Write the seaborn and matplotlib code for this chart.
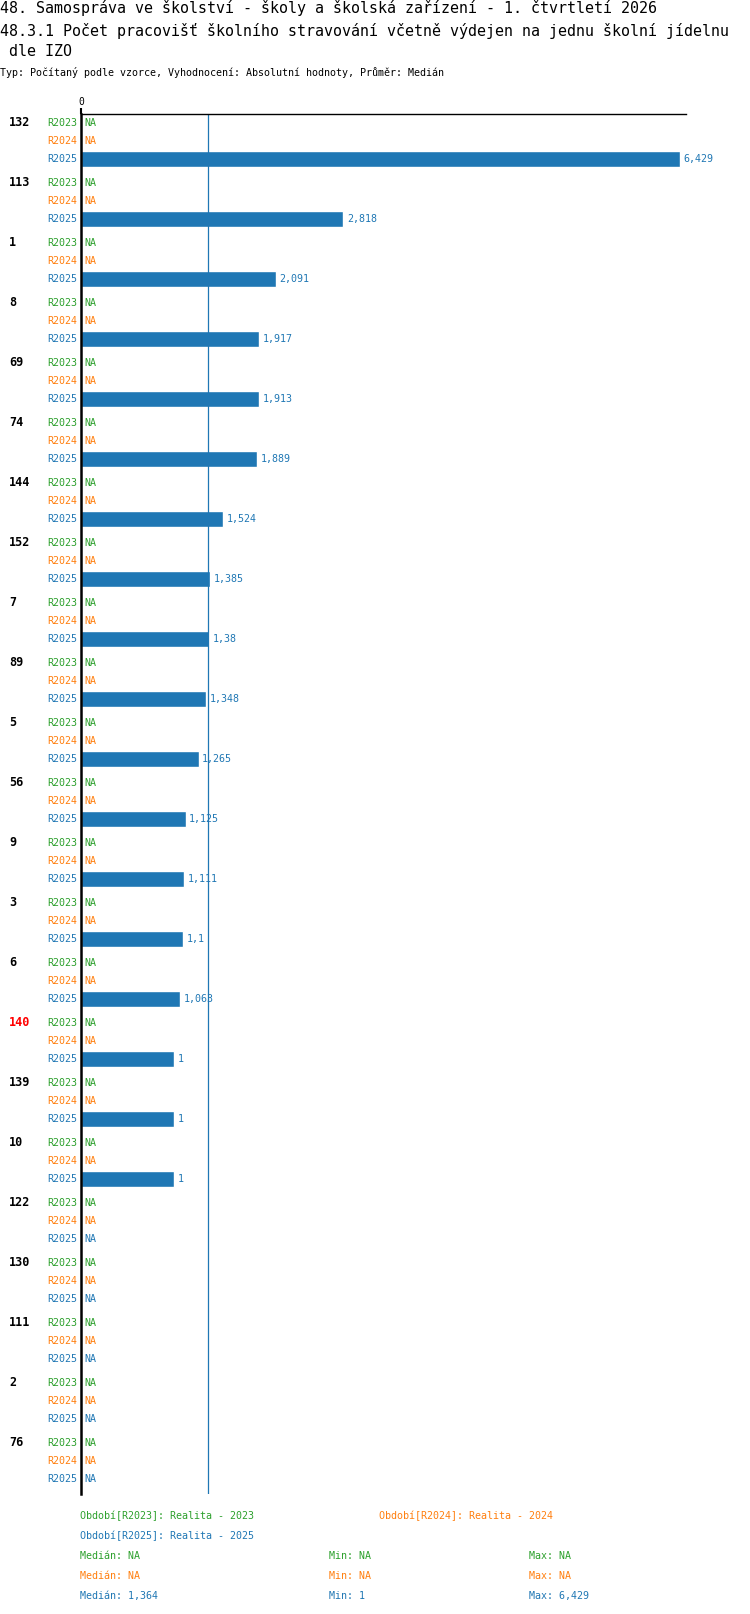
"""Počet pracovišť školního stravování na jednu školní jídelnu, dle IZO."""

import matplotlib.pyplot as plt
import numpy as np
import pandas as pd
import seaborn as sns

NA = np.nan

# data
ids = ["132", "113", "1", "8", "69", "74", "144", "152", "7", "89", "5", "56",
       "9", "3", "6", "140", "139", "10", "122", "130", "111", "2", "76"]
periods = ["R2023", "R2024", "R2025"]
r2023 = [NA] * 23
r2024 = [NA] * 23
r2025 = [6.429, 2.818, 2.091, 1.917, 1.913, 1.889, 1.524, 1.385, 1.38, 1.348,
         1.265, 1.125, 1.111, 1.1, 1.063, 1, 1, 1, NA, NA, NA, NA, NA]
highlight = "140"
legend_labels = {"R2023": "Realita - 2023", "R2024": "Realita - 2024",
                 "R2025": "Realita - 2025"}

title_lines = [
    "48. Samospráva ve školství - školy a školská zařízení - 1. čtvrtletí 2026",
    "48.3.1 Počet pracovišť školního stravování včetně výdejen na jednu školní jídelnu",
    " dle IZO",
]
subtitle = "Typ: Počítaný podle vzorce, Vyhodnocení: Absolutní hodnoty, Průměr: Medián"

colors = {"R2023": "#2ca02c", "R2024": "#ff7f0e", "R2025": "#1f77b4"}

W, H = 750, 1614
AX_L, AX_R, AX_T, AX_B = 81, 686, 114, 1494
ROW0, GROUP_STEP, ROW_STEP = 123, 60, 18


def fmt(v):
    if np.isnan(v):
        return "NA"
    return f"{v:.3f}".rstrip("0").rstrip(".").replace(".", ",")


series = {"R2023": r2023, "R2024": r2024, "R2025": r2025}
rows = []
for g, gid in enumerate(ids):
    for r, p in enumerate(periods):
        rows.append({"id": gid, "period": p, "value": series[p][g],
                     "pos": ROW0 + g * GROUP_STEP + r * ROW_STEP})
df = pd.DataFrame(rows)

sns.set_style("white")
plt.rcParams["font.family"] = ["DejaVu Sans Mono", "DejaVu Sans"]
plt.rcParams["text.color"] = "black"

fig = plt.figure(figsize=(W / 100, H / 100), dpi=100)
ax = fig.add_axes([AX_L / W, 1 - AX_B / H, (AX_R - AX_L) / W, (AX_B - AX_T) / H])

bars = df[(df.period == "R2025") & df.value.notna()]
sns.barplot(data=bars, x="value", y="pos", orient="h", native_scale=True,
            width=16 / GROUP_STEP, color=colors["R2025"], saturation=1,
            errorbar=None, ax=ax)

vals = np.array(r2025, dtype=float)
med = np.nanmedian(vals)
ax.axvline(med, color=colors["R2025"], lw=0.9)

ax.set_xlim(0, (AX_R - AX_L) / 93.1)
ax.set_ylim(AX_B, AX_T)
ax.set_xlabel("")
ax.set_ylabel("")
ax.set_yticks([])
ax.xaxis.tick_top()
ax.set_xticks([0])
ax.set_xticklabels(["0"])
ax.tick_params(axis="x", length=4, width=1.5, pad=1, labelsize=7, colors="black")
for s in ["right", "bottom"]:
    ax.spines[s].set_visible(False)
ax.spines["top"].set_linewidth(1.0)
ax.spines["top"].set_color("black")
ax.spines["left"].set_linewidth(1.8)
ax.spines["left"].set_color("black")

small = 7.2
for _, row in df.iterrows():
    c = colors[row.period]
    y = row.pos
    if row.period == "R2023":
        ax.annotate(row.id, xy=(0, y), xytext=(-72, 0), textcoords="offset pixels",
                    ha="left", va="center", fontsize=8.5, fontweight="bold",
                    color="red" if row.id == highlight else "black",
                    annotation_clip=False)
    ax.annotate(row.period, xy=(0, y), xytext=(-4, 0), textcoords="offset pixels",
                ha="right", va="center", fontsize=small, color=c,
                annotation_clip=False)
    v = row.value
    x = 0 if np.isnan(v) else v
    ax.annotate(fmt(v), xy=(x, y), xytext=(3.5, 0), textcoords="offset pixels",
                ha="left", va="center", fontsize=small, color=c,
                annotation_clip=False)

# titles
for t, yc in zip(title_lines, [8, 31, 52]):
    fig.text(0, 1 - yc / H, t, ha="left", va="center", fontsize=10.8, color="black")
fig.text(0, 1 - 73 / H, subtitle, ha="left", va="center", fontsize=small, color="black")


# legend / summary
def ftext(x, y, s, c):
    fig.text(x / W, 1 - y / H, s, ha="left", va="center", fontsize=small, color=c)


ftext(80, 1516, f"Období[R2023]: {legend_labels['R2023']}", colors["R2023"])
ftext(379, 1516, f"Období[R2024]: {legend_labels['R2024']}", colors["R2024"])
ftext(80, 1536, f"Období[R2025]: {legend_labels['R2025']}", colors["R2025"])
for i, p in enumerate(periods):
    v = np.array(series[p], dtype=float)
    if np.all(np.isnan(v)):
        md = mn = mx = NA
    else:
        md, mn, mx = np.nanmedian(v), np.nanmin(v), np.nanmax(v)
    y = 1556 + i * 20
    ftext(80, y, f"Medián: {fmt(md)}", colors[p])
    ftext(329, y, f"Min: {fmt(mn)}", colors[p])
    ftext(529, y, f"Max: {fmt(mx)}", colors[p])

fig.savefig("out.png", dpi=100)
